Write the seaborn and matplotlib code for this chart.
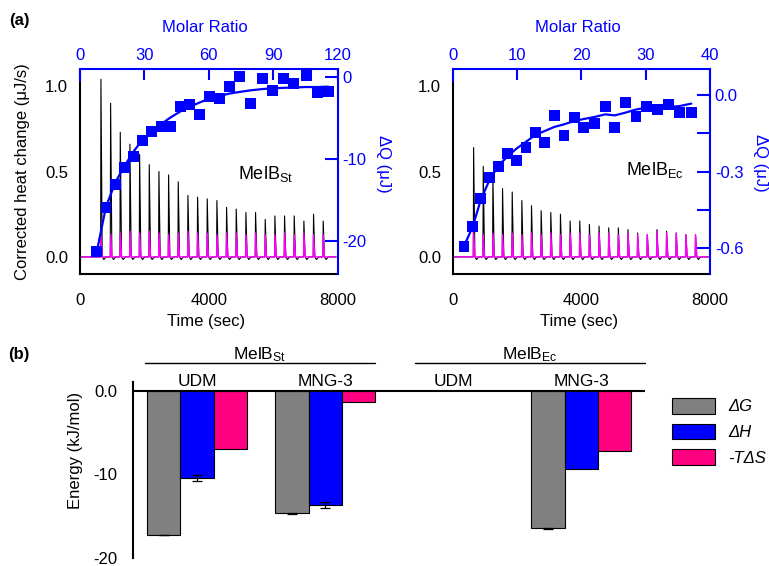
import numpy as np
import pandas as pd
import matplotlib
matplotlib.use("Agg")
import matplotlib.pyplot as plt
import seaborn as sns
from matplotlib.patches import Patch

# ---------------- data: panel (a) ----------------
inj_time = [650, 950, 1250, 1550, 1850, 2150, 2450, 2750, 3050, 3350, 3650, 3950,
            4250, 4550, 4850, 5150, 5450, 5750, 6050, 6350, 6650, 6950, 7250, 7550]

# MelB_St (left)
peak_st = [1.04, 0.90, 0.73, 0.66, 0.60, 0.54, 0.50, 0.48, 0.44, 0.36, 0.35, 0.34,
           0.33, 0.29, 0.28, 0.26, 0.26, 0.22, 0.24, 0.24, 0.24, 0.21, 0.25, 0.21]
ref_st = [0.12, 0.13, 0.14, 0.15, 0.14, 0.15, 0.14, 0.13, 0.14, 0.15, 0.14, 0.14,
          0.13, 0.14, 0.14, 0.13, 0.14, 0.13, 0.13, 0.14, 0.13, 0.14, 0.13, 0.13]
molar_st = [7.8, 12.1, 16.5, 20.8, 25.1, 29.2, 33.5, 37.9, 42.2, 46.6, 51.1, 55.6,
            60.2, 64.9, 69.5, 74.2, 79.5, 84.8, 89.7, 94.7, 99.4, 105.3, 110.5, 115.7]
dq_st = [-21.3, -15.9, -13.1, -11.0, -9.7, -7.7, -6.6, -6.0, -6.0, -3.6, -3.3, -4.5,
         -2.3, -2.6, -1.1, 0.1, -3.2, -0.2, -1.6, -0.2, -0.8, 0.2, -1.9, -1.7]
fit_st = [-21.3, -15.8, -12.8, -10.8, -9.0, -7.6, -6.6, -5.7, -4.9, -4.2, -3.6, -3.1,
          -2.6, -2.3, -2.0, -1.8, -1.6, -1.45, -1.35, -1.3, -1.25, -1.2, -1.2, -1.15]

# MelB_Ec (right)
peak_ec = [0.64, 0.53, 0.48, 0.40, 0.38, 0.33, 0.30, 0.27, 0.26, 0.25, 0.21, 0.21,
           0.19, 0.18, 0.17, 0.17, 0.16, 0.14, 0.13, 0.16, 0.15, 0.14, 0.13, 0.13]
ref_ec = [0.14, 0.13, 0.14, 0.13, 0.14, 0.13, 0.14, 0.13, 0.14, 0.13, 0.14, 0.14,
          0.13, 0.14, 0.14, 0.13, 0.14, 0.13, 0.13, 0.15, 0.14, 0.14, 0.13, 0.13]
molar_ec = [1.76, 3.1, 4.35, 5.7, 7.1, 8.55, 9.95, 11.4, 12.8, 14.3, 15.8, 17.3,
            18.9, 20.4, 22.1, 23.7, 25.2, 26.9, 28.5, 30.2, 31.9, 33.6, 35.2, 37.1]
dq_ec = [-0.591, -0.513, -0.405, -0.325, -0.282, -0.230, -0.258, -0.206, -0.149, -0.188,
         -0.081, -0.158, -0.090, -0.129, -0.113, -0.048, -0.129, -0.029, -0.084, -0.048,
         -0.058, -0.038, -0.068, -0.068]
fit_ec = [-0.591, -0.516, -0.412, -0.334, -0.278, -0.240, -0.210, -0.184, -0.158, -0.142,
          -0.126, -0.116, -0.103, -0.095, -0.087, -0.077, -0.081, -0.070, -0.058, -0.051,
          -0.051, -0.048, -0.045, -0.035]

time_ticks = [0, 4000, 8000]
heat_ticks = [0.0, 0.5, 1.0]
heat_ticklabels = ["0.0", "0.5", "1.0"]
mr_ticks_st = [0, 30, 60, 90, 120]
mr_ticks_ec = [0, 10, 20, 30, 40]
dq_ticks_st = [0, -10, -20]
dq_ticklabels_st = ["0", "-10", "-20"]
dq_ticks_ec = [0.0, -0.15, -0.3, -0.45, -0.6]
dq_ticklabels_ec = ["0.0", "", "-0.3", "", "-0.6"]

# ---------------- data: panel (b) ----------------
conditions = ["St UDM", "St MNG-3", "Ec UDM", "Ec MNG-3"]
cond_labels = ["UDM", "MNG-3", "UDM", "MNG-3"]
components = ["ΔG", "ΔH", "-TΔS"]
dG = [-17.3, -14.7, np.nan, -16.5]
dH = [-10.4, -13.7, np.nan, -9.4]
TdS = [-6.9, -1.3, np.nan, -7.2]
dG_err = [0.05, 0.1, np.nan, 0.1]
dH_err = [0.35, 0.35, np.nan, 0.0]
TdS_err = [0.0, 0.0, np.nan, 0.0]
energy_ticks = [0, -10, -20]
energy_ticklabels = ["0.0", "-10", "-20"]

BLUE = "#0000ff"
MAGENTA = "#ff00ff"
bar_colors = ["#808080", "#0000ff", "#ff0080"]
NARROW = ["Liberation Sans Narrow", "Liberation Sans", "DejaVu Sans"]

sns.set_style("white")
plt.rcParams.update({
    "font.family": ["Liberation Sans", "DejaVu Sans"],
    "mathtext.fontset": "custom",
    "mathtext.rm": "Liberation Sans",
    "mathtext.it": "Liberation Sans:italic",
    "mathtext.bf": "Liberation Sans:bold",
    "axes.linewidth": 1.5,
    "text.color": "black",
    "axes.labelcolor": "black",
    "xtick.color": "black",
    "ytick.color": "black",
    "axes.edgecolor": "black",
})

W, H = 769, 566
fig = plt.figure(figsize=(W / 100, H / 100), dpi=100)


def trace_frame(times, heights, dip):
    t = [0.0]
    v = [0.0]
    for ti, hi in zip(times, heights):
        t += [ti - 10, ti, ti + 40]
        v += [0.0, hi, 0.0]
        if dip:
            t += [ti + 90, ti + 160]
            v += [-0.015, 0.0]
    t.append(7950.0)
    v.append(0.0)
    return pd.DataFrame({"time": t, "heat": v})


def itc_panel(rect, peaks, refs, molar, dq, fit, mr_lim, mr_ticks, dq_lim, dq_ticks,
              dq_labels, name, name_xy, dq_label_xy, show_ylabel, key):
    ax = fig.add_axes(rect, label=key + "_heat")
    sns.lineplot(data=trace_frame(inj_time, peaks, True), x="time", y="heat",
                 sort=False, estimator=None, color="black", lw=0.8, ax=ax)
    sns.lineplot(data=trace_frame(inj_time, refs, False), x="time", y="heat",
                 sort=False, estimator=None, color=MAGENTA, lw=1.0, ax=ax)
    ax.set_xlim(0, 8000)
    ax.set_ylim(-0.1, 1.1)
    ax.set_xticks(time_ticks)
    ax.set_yticks(heat_ticks)
    ax.set_yticklabels(heat_ticklabels)
    for s in ("top", "right"):
        ax.spines[s].set_visible(False)
    for s in ("left", "bottom"):
        ax.spines[s].set_color("black")
        ax.spines[s].set_linewidth(1.5)
    ax.spines["left"].set_bounds(-0.1, 1.03)
    ax.tick_params(axis="x", direction="out", length=9, width=1.5, pad=4.5,
                   labelsize=12, colors="black")
    ax.tick_params(axis="y", direction="out", length=6, width=1.5, pad=2.5,
                   labelsize=12, colors="black")
    ax.set_xlabel("Time (sec)", fontsize=12, va="center")
    ax.xaxis.set_label_coords(0.49, -0.234)
    if show_ylabel:
        ax.set_ylabel("Corrected heat change (μJ/s)", fontsize=12, va="center")
        ax.yaxis.set_label_coords(-0.225, 0.5)
    else:
        ax.set_ylabel("")
    ax.text(name_xy[0], name_xy[1], name, transform=ax.transAxes, fontsize=13,
            ha="left", va="center")

    ov = fig.add_axes(rect, label=key + "_dq")
    ov.patch.set_visible(False)
    sns.lineplot(x=molar, y=fit, sort=False, estimator=None, color=BLUE, lw=1.6, ax=ov)
    sns.scatterplot(x=molar, y=dq, marker="s", s=62, color=BLUE, edgecolor="none",
                    linewidth=0, ax=ov, zorder=3)
    ov.set_xlim(*mr_lim)
    ov.set_ylim(*dq_lim)
    ov.xaxis.tick_top()
    ov.xaxis.set_label_position("top")
    ov.yaxis.tick_right()
    ov.yaxis.set_label_position("right")
    ov.set_xticks(mr_ticks)
    ov.set_yticks(dq_ticks)
    ov.set_yticklabels(dq_labels)
    for s in ("top", "right", "left"):
        ov.spines[s].set_color(BLUE)
        ov.spines[s].set_linewidth(1.5)
    ov.spines["bottom"].set_visible(False)
    frac = (1.03 - (-0.1)) / 1.2
    ov.spines["left"].set_bounds(dq_lim[0] + frac * (dq_lim[1] - dq_lim[0]), dq_lim[1])
    ov.tick_params(axis="x", direction="in", length=8, width=1.5, pad=4,
                   labelsize=12, colors=BLUE)
    ov.tick_params(axis="y", direction="in", length=9.5, width=1.5, pad=3.5,
                   labelsize=12, colors=BLUE)
    ov.set_xlabel("Molar Ratio", fontsize=12, color=BLUE, va="center")
    ov.xaxis.set_label_coords(0.485, 1.2)
    ov.set_ylabel("ΔQ (μJ)", fontsize=12, color=BLUE)
    ov.yaxis.label.set_rotation(270)
    ov.yaxis.label.set_va("center")
    ov.yaxis.set_label_coords(dq_label_xy[0], dq_label_xy[1])
    return ax, ov


itc_panel([80 / W, 1 - 274 / H, 257.7 / W, 205 / H], peak_st, ref_st, molar_st, dq_st,
          fit_st, (0, 120), mr_ticks_st, (-24, 1), dq_ticks_st, dq_ticklabels_st,
          r"MelB$_{\mathrm{St}}$", (0.613, 0.49), (1.176, 0.535), True, "st")
itc_panel([452.7 / W, 1 - 274 / H, 257.3 / W, 205 / H], peak_ec, ref_ec, molar_ec, dq_ec,
          fit_ec, (0, 40), mr_ticks_ec, (-0.7, 0.1), dq_ticks_ec, dq_ticklabels_ec,
          r"MelB$_{\mathrm{Ec}}$", (0.674, 0.507), (1.196, 0.54), False, "ec")

# ---------------- panel (b) ----------------
rows = []
for comp, vals, errs in zip(components, [dG, dH, TdS], [dG_err, dH_err, TdS_err]):
    for cond, v, e in zip(conditions, vals, errs):
        if not np.isnan(v):
            rows.append({"condition": cond, "component": comp, "energy": v, "err": e})
df = pd.DataFrame(rows)

axb = fig.add_axes([133 / W, 1 - 557.5 / H, 512.5 / W, 175.5 / H])
sns.barplot(data=df, x="condition", y="energy", hue="component", order=conditions,
            hue_order=components, palette=bar_colors, saturation=1, edgecolor="black",
            linewidth=0.8, errorbar=None, width=0.78, legend=False, ax=axb)
axb.set_xlim(-0.5, 3.5)
axb.set_ylim(-20, 1.1)
for _, r in df.iterrows():
    if r["err"] > 0:
        for p in axb.patches:
            if np.isclose(p.get_height(), r["energy"]):
                axb.errorbar(p.get_x() + p.get_width() / 2, r["energy"], yerr=r["err"],
                             color="black", capsize=3.5, elinewidth=0.9, capthick=0.9,
                             zorder=4)
                break
axb.axhline(0, color="black", lw=1.5, zorder=5)
for s in ("top", "right", "bottom"):
    axb.spines[s].set_visible(False)
axb.spines["left"].set_color("black")
axb.spines["left"].set_linewidth(1.5)
axb.set_yticks(energy_ticks)
axb.set_yticklabels(energy_ticklabels, family=NARROW)
axb.tick_params(axis="y", direction="out", length=9, width=1.5, pad=2, labelsize=12,
                colors="black")
axb.tick_params(axis="x", length=0, labelbottom=False)
axb.set_xlabel("")
axb.set_ylabel("Energy (kJ/mol)", fontsize=12, va="center")
axb.yaxis.set_label_coords(-0.113, 0.609)

for xt, lab in zip(axb.get_xticks(), cond_labels):
    axb.text(xt, 0.6, lab, ha="center", va="baseline", fontsize=12.5, family=NARROW)

species = [(r"MelB$_{\mathrm{St}}$", 0, 1, -0.41, 0.39),
           (r"MelB$_{\mathrm{Ec}}$", 2, 3, -0.3, 0.5)]
for lab, g0, g1, d0, d1 in species:
    x0, x1 = g0 + d0, g1 + d1
    axb.plot([x0, x1], [3.35, 3.35], color="black", lw=1.0, clip_on=False)
    axb.text((x0 + x1) / 2, 3.87, lab, ha="center", va="baseline", fontsize=12.5,
             family=NARROW, clip_on=False)

handles = [Patch(facecolor=c, edgecolor="black", linewidth=0.8, label=l)
           for c, l in zip(bar_colors, components)]
fig.legend(handles=handles, loc="upper left", bbox_to_anchor=(672 / W, 1 - 398 / H),
           frameon=False, prop={"style": "italic", "size": 12}, handlelength=2.6,
           handleheight=1.06, handletextpad=0.75, labelspacing=0.55, borderpad=0,
           borderaxespad=0)

fig.text(19 / W, 1 - 20 / H, "(a)", fontsize=12, weight="bold", ha="center", va="center")
fig.text(19 / W, 1 - 355 / H, "(b)", fontsize=12, weight="bold", ha="center", va="center",
         family=NARROW)

fig.savefig("out.png", dpi=100)
